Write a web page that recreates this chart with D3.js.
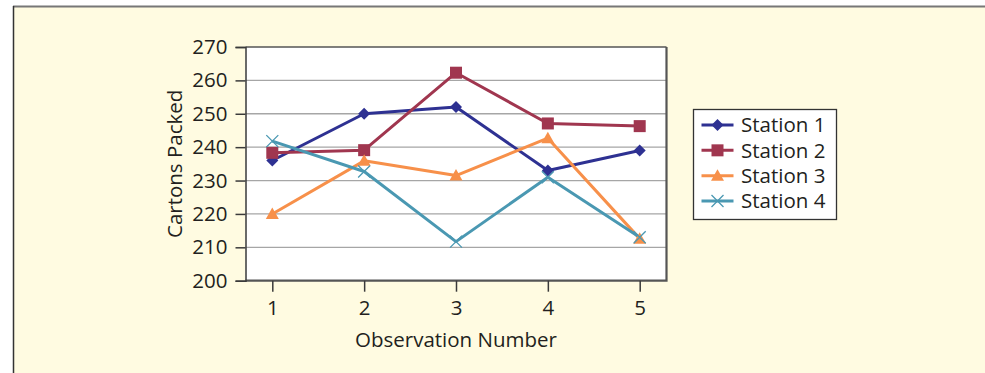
<!DOCTYPE html>
<html>
<head>
<meta charset="utf-8">
<script src="https://cdn.jsdelivr.net/npm/d3@7"></script>
<style>
  body { margin: 0; background: #fff; }
  svg text { font-family: "Open Sans", "Noto Sans", sans-serif; fill: #231f20; }
</style>
</head>
<body>
<div class="chart"></div>
<script>
// observation numbers along the x axis
const observations = [1, 2, 3, 4, 5];
const yTicks = [200, 210, 220, 230, 240, 250, 260, 270];

// cartons packed per station
const station1 = [236, 250, 252, 233, 239];
const station2 = [238.3, 239.1, 262.3, 247.1, 246.3];
const station3 = [220, 235.9, 231.5, 242.7, 212.6];
const station4 = [241.8, 232.7, 211.7, 231, 213];

const stationNames = ["Station 1", "Station 2", "Station 3", "Station 4"];
const stationColors = ["#2e3192", "#a0364f", "#f7904a", "#4a98b2"];
const stationShapes = ["diamond", "square", "triangle", "cross"];

const series = [station1, station2, station3, station4].map((vals, i) => ({
  name: stationNames[i],
  color: stationColors[i],
  shape: stationShapes[i],
  values: vals
}));

const width = 985, height = 373;
const fontSize = 20.5;

const svg = d3.select(".chart")
  .append("svg")
  .attr("width", width)
  .attr("height", height);

// cream panel with its frame
svg.append("rect")
  .attr("x", 13).attr("y", 6)
  .attr("width", width - 13).attr("height", height - 6)
  .attr("fill", "#fffbe1");
svg.append("line")
  .attr("x1", 13).attr("x2", width).attr("y1", 6.5).attr("y2", 6.5)
  .attr("stroke", "#777").attr("stroke-width", 2);
svg.append("line")
  .attr("x1", 13.5).attr("x2", 13.5).attr("y1", 6).attr("y2", height)
  .attr("stroke", "#333").attr("stroke-width", 1.5);

// plot box
const box = { left: 245.5, right: 666.5, top: 47, bottom: 280.7 };

const x = d3.scalePoint()
  .domain(observations)
  .range([272.3, 639.7]);

const y = d3.scaleLinear()
  .domain([200, 270])
  .range([box.bottom, box.top]);

svg.append("rect")
  .attr("x", box.left).attr("y", box.top)
  .attr("width", box.right - box.left).attr("height", box.bottom - box.top)
  .attr("fill", "#fff");

// gridlines
svg.append("g")
  .selectAll("line")
  .data(yTicks.filter(d => d > 200 && d < 270))
  .join("line")
  .attr("x1", box.left).attr("x2", box.right)
  .attr("y1", d => y(d)).attr("y2", d => y(d))
  .attr("stroke", "#a6a6a6").attr("stroke-width", 1.3);

// box border, darker on the right and bottom
svg.append("path")
  .attr("d", `M${box.left},${box.top}H${box.right}`)
  .attr("stroke", "#555").attr("stroke-width", 1.3).attr("fill", "none");
svg.append("path")
  .attr("d", `M${box.right},${box.top}V${box.bottom}H${box.left}`)
  .attr("stroke", "#555").attr("stroke-width", 2.2).attr("fill", "none");

// y axis
const yAxis = svg.append("g")
  .attr("transform", `translate(${box.left},0)`)
  .call(d3.axisLeft(y).tickValues(yTicks).tickSize(10).tickPadding(8));
yAxis.select(".domain").attr("stroke", "#3a3a3a").attr("stroke-width", 1.5);
yAxis.selectAll(".tick line").attr("stroke", "#3a3a3a").attr("stroke-width", 1.5);
yAxis.selectAll(".tick text")
  .attr("font-size", fontSize)
  .attr("font-family", "Open Sans, Noto Sans, sans-serif")
  .attr("fill", "#231f20");

// x axis
const xAxis = svg.append("g")
  .attr("transform", `translate(0,${box.bottom})`)
  .call(d3.axisBottom(x).tickSize(11).tickPadding(9));
xAxis.select(".domain").remove();
xAxis.selectAll(".tick line").attr("stroke", "#3a3a3a").attr("stroke-width", 1.5);
xAxis.selectAll(".tick text")
  .attr("font-size", fontSize)
  .attr("font-family", "Open Sans, Noto Sans, sans-serif")
  .attr("fill", "#231f20");

// axis titles
svg.append("text")
  .attr("x", 456).attr("y", 347)
  .attr("text-anchor", "middle")
  .attr("font-size", fontSize)
  .text("Observation Number");

svg.append("text")
  .attr("transform", `translate(181.5,${(box.top + box.bottom) / 2}) rotate(-90)`)
  .attr("text-anchor", "middle")
  .attr("font-size", fontSize)
  .text("Cartons Packed");

// marker drawing
function drawMarker(g, shape, color) {
  if (shape === "diamond") {
    g.append("path").attr("d", "M0,-6L6,0L0,6L-6,0Z").attr("fill", color);
  } else if (shape === "square") {
    g.append("rect").attr("x", -6).attr("y", -6).attr("width", 12).attr("height", 12).attr("fill", color);
  } else if (shape === "triangle") {
    g.append("path").attr("d", "M0,-6.5L6.5,5L-6.5,5Z").attr("fill", color);
  } else {
    g.append("path").attr("d", "M-6,-6L6,6M-6,6L6,-6")
      .attr("stroke", color).attr("stroke-width", 1.3).attr("fill", "none");
  }
}

const line = d3.line()
  .x((d, i) => x(observations[i]))
  .y(d => y(d));

series.forEach(s => {
  svg.append("path")
    .datum(s.values)
    .attr("d", line)
    .attr("fill", "none")
    .attr("stroke", s.color)
    .attr("stroke-width", 3)
    .attr("stroke-linejoin", "round");
});

series.forEach(s => {
  svg.append("g")
    .selectAll("g")
    .data(s.values)
    .join("g")
    .attr("transform", (d, i) => `translate(${x(observations[i])},${y(d)})`)
    .each(function () { drawMarker(d3.select(this), s.shape, s.color); });
});

// legend
const legend = svg.append("g");
legend.append("rect")
  .attr("x", 693.5).attr("y", 109.5)
  .attr("width", 143).attr("height", 110)
  .attr("fill", "#fff").attr("stroke", "#333").attr("stroke-width", 1.3);

const rowY = d3.scalePoint().domain(stationNames).range([125, 201]);

series.forEach(s => {
  const g = legend.append("g").attr("transform", `translate(0,${rowY(s.name)})`);
  g.append("line")
    .attr("x1", 701.5).attr("x2", 733.5).attr("y1", 0).attr("y2", 0)
    .attr("stroke", s.color).attr("stroke-width", 3);
  const m = g.append("g").attr("transform", "translate(717.5,0)");
  drawMarker(m, s.shape, s.color);
  g.append("text")
    .attr("x", 741).attr("y", 0)
    .attr("dy", "0.35em")
    .attr("font-size", fontSize)
    .text(s.name);
});
</script>
</body>
</html>
